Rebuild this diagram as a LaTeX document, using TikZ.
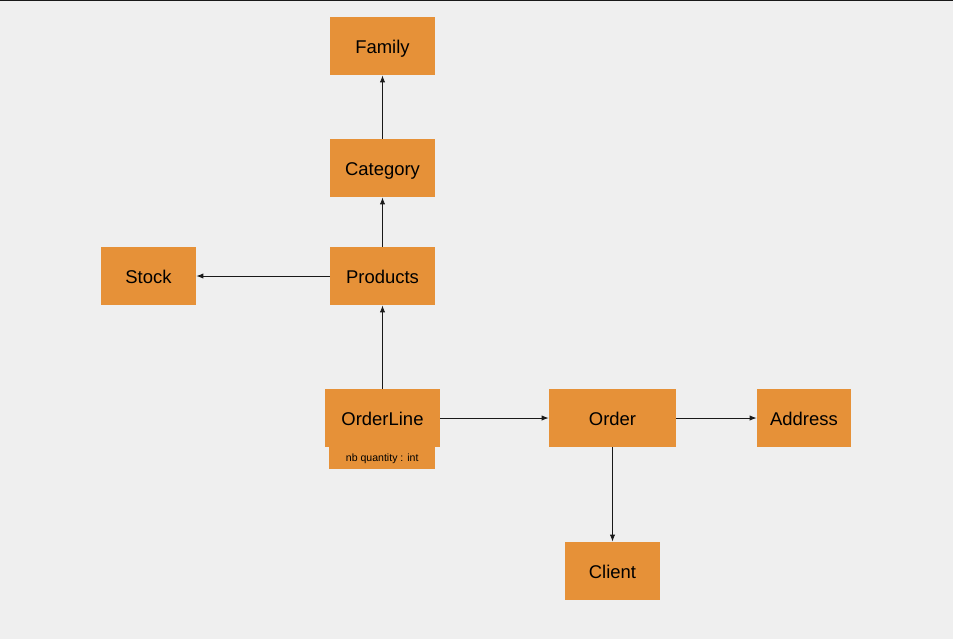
\documentclass[tikz,border=0pt]{standalone}
\usepackage{fontspec}
\setmainfont{Liberation Sans}
\usepackage{xcolor}
\usepackage{tikz}
\usetikzlibrary{arrows.meta}

\definecolor{pagegray}{HTML}{EFEFEF}
\definecolor{boxorange}{HTML}{E69138}

\tikzset{
  entity/.style={fill=boxorange, inner sep=0pt, minimum height=1.16cm,
    text height=8.6pt, text depth=0pt, font=\fontsize{10.5}{12}\selectfont},
  attr/.style={fill=boxorange, inner sep=0pt, minimum width=2.12cm,
    minimum height=0.44cm, text height=5pt, text depth=0pt,
    font=\fontsize{6}{7}\selectfont},
  link/.style={-{Latex[length=4pt,width=3pt]}, line width=0.5pt, black!90}
}

\begin{document}
\begin{tikzpicture}[x=0.02cm,y=-0.02cm]
\fill[pagegray] (0,0) rectangle (953,639);
\fill[black!90] (0,0) rectangle (953,1.3);

% product side
\node (family) at (382.5,46) [entity, minimum width=2.1cm] {Family};
\node (category) at (382.5,168) [entity, minimum width=2.1cm] {Category};
\node (products) at (382.5,276) [entity, minimum width=2.1cm] {Products};
\node (stock) at (148.5,276) [entity, minimum width=1.9cm] {Stock};

% order side
\node (orderlineattr) at (382.2,457.5) [attr] {nb quantity : int};
\node (orderline) at (382.5,418) [entity, minimum width=2.3cm] {OrderLine};
\node (order) at (612.5,418) [entity, minimum width=2.54cm] {Order};
\node (address) at (804,418) [entity, minimum width=1.88cm] {Address};
\node (client) at (612.5,571) [entity, minimum width=1.9cm] {Client};

\draw[link] (category) -- (family);
\draw[link] (products) -- (category);
\draw[link] (products) -- (stock);
\draw[link] (orderline) -- (products);
\draw[link] (orderline) -- (order);
\draw[link] (order) -- (address);
\draw[link] (order) -- (client);
\end{tikzpicture}
\end{document}
